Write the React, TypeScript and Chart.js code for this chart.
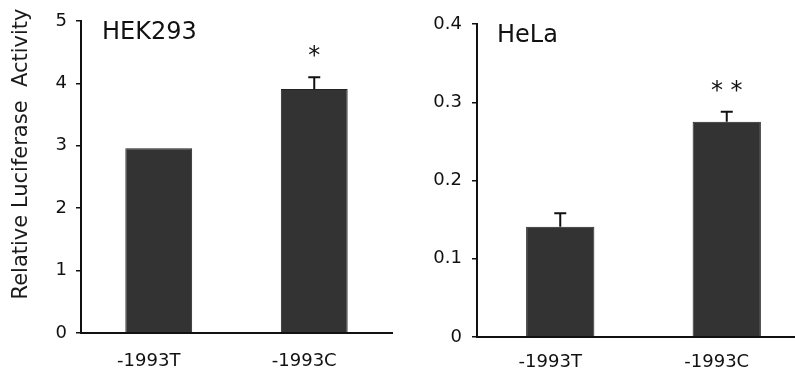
import React, { useEffect, useRef } from "react";
import { Chart, registerables } from "chart.js";

Chart.register(...registerables);

const categories = ["-1993T", "-1993C"];
const hekMeans = [2.96, 3.91];
const hekErrors = [0, 0.19];
const hekSig = ["", "*"];
const helaMeans = [0.141, 0.275];
const helaErrors = [0.017, 0.013];
const helaSig = ["", "* *"];
const hekTicks = [0, 1, 2, 3, 4, 5];
const helaTicks = [0, 0.1, 0.2, 0.3, 0.4];

const FONT = "DejaVu Sans";
const BAR = "#333333";

const annotPlugin = {
  id: "annot",
  afterDatasetsDraw(chart: any, _args: any, opts: any) {
    const { ctx, chartArea, scales } = chart;
    const y = scales.y;
    const meta = chart.getDatasetMeta(0);
    ctx.save();
    ctx.strokeStyle = "#111";
    ctx.lineWidth = 2;
    (opts.errors || []).forEach((e: number, i: number) => {
      const bar = meta.data[i];
      if (!bar) return;
      const topV = opts.means[i] + e;
      const top = y.getPixelForValue(topV);
      if (e > 0) {
        ctx.beginPath();
        ctx.moveTo(bar.x, bar.y);
        ctx.lineTo(bar.x, top);
        ctx.moveTo(bar.x - 6, top);
        ctx.lineTo(bar.x + 6, top);
        ctx.stroke();
      }
      const s = opts.sig[i];
      if (s) {
        ctx.fillStyle = "#111";
        ctx.font = `24px ${FONT}`;
        ctx.textAlign = "center";
        ctx.textBaseline = "alphabetic";
        ctx.fillText(s, bar.x + (opts.sigDx || 0), top - 14);
      }
    });
    // panel title
    ctx.fillStyle = "#111";
    ctx.font = `24px ${FONT}`;
    ctx.textAlign = "left";
    ctx.textBaseline = "middle";
    ctx.fillText(opts.panel, chartArea.left + opts.panelDx, chartArea.top + opts.panelDy);
    if (opts.yTitle) {
      ctx.save();
      ctx.translate(opts.yTitleX, opts.yTitleY);
      ctx.rotate(-Math.PI / 2);
      ctx.font = `21px ${FONT}`;
      ctx.textAlign = "center";
      ctx.textBaseline = "middle";
      ctx.fillStyle = "#1a1a1a";
      ctx.fillText(opts.yTitle, 0, 0);
      ctx.restore();
    }
    ctx.restore();
  },
};

function makeConfig(p: any) {
  return {
    type: "bar",
    data: {
      labels: categories,
      datasets: [
        {
          data: p.means,
          backgroundColor: BAR,
          borderColor: "#222",
          borderWidth: 1,
          barPercentage: p.barPct,
          categoryPercentage: 1,
        },
      ],
    },
    plugins: [annotPlugin],
    options: {
      animation: false,
      responsive: false,
      maintainAspectRatio: false,
      layout: { padding: { left: 0, right: p.padRight, top: p.padTop, bottom: 0 } },
      plugins: {
        legend: { display: false },
        tooltip: { enabled: false },
        annot: {
          errors: p.errors,
          means: p.means,
          sig: p.sig,
          panel: p.panel,
          panelDx: p.panelDx,
          panelDy: p.panelDy,
          yTitle: p.yTitle,
          yTitleX: p.yTitleX,
          yTitleY: p.yTitleY,
        },
      },
      scales: {
        x: {
          grid: { display: false },
          border: { display: true, color: "#111", width: 2 },
          ticks: {
            color: "#111",
            font: { family: FONT, size: 18 },
            padding: p.xPad,
            labelOffset: -10,
          },
          afterFit: (s: any) => {
            s.height = p.xHeight;
          },
        },
        y: {
          min: p.ticks[0],
          max: p.ticks[p.ticks.length - 1],
          afterBuildTicks: (s: any) => {
            s.ticks = p.ticks.map((v: number) => ({ value: v }));
          },
          grid: {
            display: true,
            drawOnChartArea: false,
            drawTicks: true,
            tickLength: 5,
            color: "#111",
            lineWidth: 1.5,
          },
          border: { display: true, color: "#111", width: 2 },
          ticks: {
            color: "#111",
            font: { family: FONT, size: 18 },
            padding: p.yPad,
            callback: (v: number) => String(v),
          },
          afterFit: (s: any) => {
            s.width = p.yWidth;
          },
        },
      },
    },
  };
}

function Panel(props: any) {
  const ref = useRef<HTMLCanvasElement>(null);
  useEffect(() => {
    const c = new Chart(ref.current as HTMLCanvasElement, makeConfig(props.p) as any);
    return () => c.destroy();
  }, []);
  return (
    <canvas
      ref={ref}
      width={props.w}
      height={376}
      style={{ position: "absolute", left: props.left, top: 0, width: props.w, height: 376 }}
    />
  );
}

export default function App() {
  const left = {
    means: hekMeans,
    errors: hekErrors,
    sig: hekSig,
    ticks: hekTicks,
    panel: "HEK293",
    panelDx: 21,
    panelDy: 12,
    yTitle: "Relative Luciferase  Activity",
    yTitleX: 22,
    yTitleY: 154,
    padRight: 8,
    padTop: 21,
    xHeight: 43,
    yWidth: 81,
    xPad: 10,
    yPad: 9,
    barPct: 0.43,
  };
  const right = {
    means: helaMeans,
    errors: helaErrors,
    sig: helaSig,
    ticks: helaTicks,
    panel: "HeLa",
    panelDx: 20,
    panelDy: 12,
    yTitle: "",
    yTitleX: 0,
    yTitleY: 0,
    padRight: 0,
    padTop: 24,
    xHeight: 39,
    yWidth: 77,
    xPad: 7,
    yPad: 10,
    barPct: 0.41,
  };
  return (
    <div
      style={{
        position: "absolute",
        left: 0,
        top: 0,
        width: 795,
        height: 376,
        overflow: "hidden",
        background: "#fff",
      }}
    >
      <Panel p={left} left={0} w={400} />
      <Panel p={right} left={400} w={410} />
    </div>
  );
}
